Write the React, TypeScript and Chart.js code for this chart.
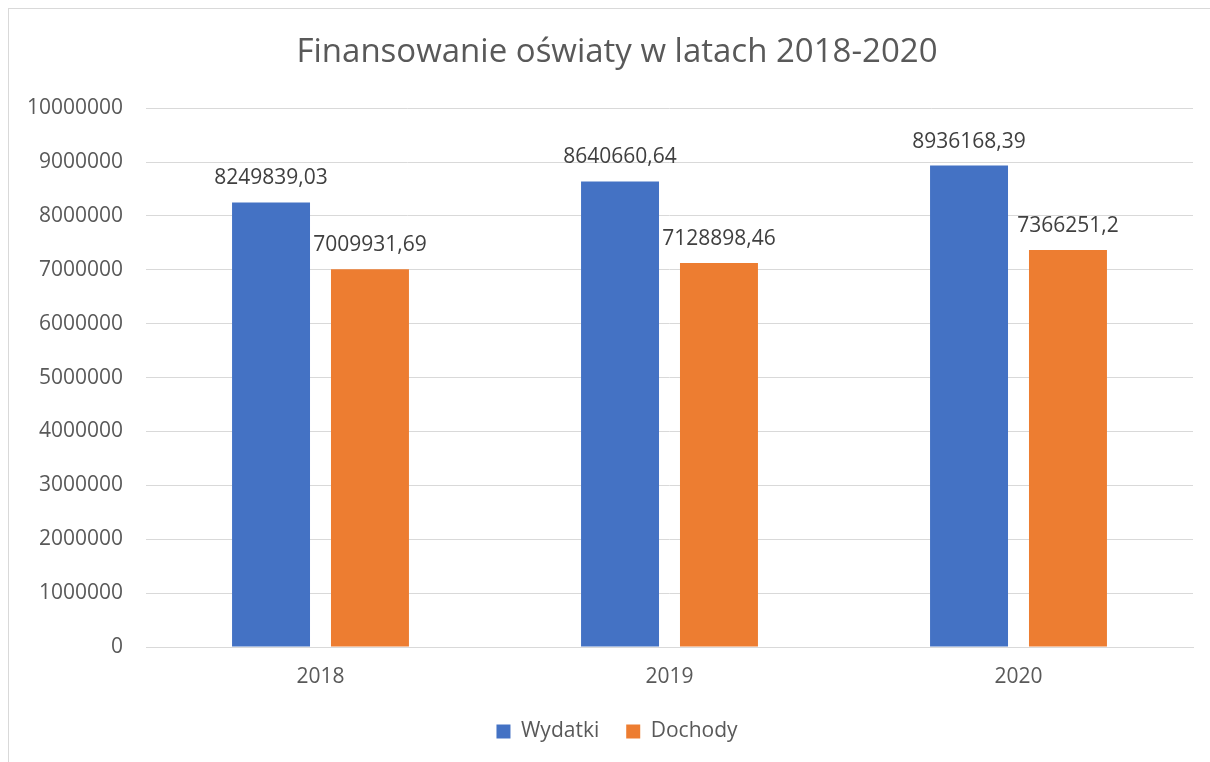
import React, { useEffect, useRef } from "react";
import { Chart, registerables } from "chart.js";

Chart.register(...registerables);

const categories = ["2018", "2019", "2020"];
const wydatki = [8249839.03, 8640660.64, 8936168.39];
const dochody = [7009931.69, 7128898.46, 7366251.2];
const seriesNames = ["Wydatki", "Dochody"];
const titleText = "Finansowanie oświaty w latach 2018-2020";
const yMin = 0;
const yMax = 10000000;
const yStep = 1000000;

const FONT = "'Open Sans', 'DejaVu Sans', sans-serif";

const dataLabelPlugin = {
  id: "dataLabels",
  afterDatasetsDraw(chart: any) {
    const ctx = chart.ctx;
    ctx.save();
    ctx.font = `21px ${FONT}`;
    ctx.fillStyle = "#404040";
    ctx.textAlign = "center";
    ctx.textBaseline = "middle";
    chart.data.datasets.forEach((ds: any, di: number) => {
      const meta = chart.getDatasetMeta(di);
      meta.data.forEach((bar: any, i: number) => {
        const v = ds.data[i] as number;
        const txt = String(v).replace(".", ",");
        ctx.fillText(txt, bar.x, bar.y - 24);
      });
    });
    ctx.restore();
  },
};

export default function App() {
  const ref = useRef<HTMLCanvasElement | null>(null);
  useEffect(() => {
    if (!ref.current) return;
    const chart = new Chart(ref.current, {
      type: "bar",
      data: {
        labels: categories,
        datasets: [
          {
            label: seriesNames[0],
            data: wydatki,
            backgroundColor: "#4472C4",
            categoryPercentage: 0.567,
            barPercentage: 0.788,
          },
          {
            label: seriesNames[1],
            data: dochody,
            backgroundColor: "#ED7D31",
            categoryPercentage: 0.567,
            barPercentage: 0.788,
          },
        ],
      },
      options: {
        animation: false,
        responsive: false,
        maintainAspectRatio: false,
        layout: { padding: { left: 0, right: 0, top: 0, bottom: 17 } },
        plugins: {
          title: {
            display: true,
            text: titleText,
            color: "#595959",
            font: { family: FONT, size: 33, weight: "normal" },
            padding: { top: 24, bottom: 35.6 },
          },
          legend: {
            display: true,
            position: "bottom",
            labels: {
              color: "#595959",
              font: { family: FONT, size: 21 },
              boxWidth: 14,
              boxHeight: 14,
              padding: 27,
            },
          },
          tooltip: { enabled: false },
        },
        scales: {
          x: {
            grid: { display: false, drawTicks: false },
            border: { display: true, color: "#D9D9D9", width: 1 },
            ticks: {
              color: "#595959",
              font: { family: FONT, size: 21 },
              padding: 17,
            },
            afterFit: (s: any) => {
              s.height = 47;
            },
          },
          y: {
            min: yMin,
            max: yMax,
            grid: { color: "#D9D9D9", lineWidth: 1, drawTicks: false },
            border: { display: false },
            ticks: {
              stepSize: yStep,
              color: "#595959",
              font: { family: FONT, size: 21 },
              padding: 23,
              callback: (v: any) => String(v),
            },
            afterFit: (s: any) => {
              s.width = 137;
            },
          },
          yRight: {
            type: "linear",
            position: "right",
            min: yMin,
            max: yMax,
            grid: { display: false, drawTicks: false },
            border: { display: false },
            ticks: { display: false },
            afterFit: (s: any) => {
              s.width = 32;
            },
          },
        },
      },
      plugins: [dataLabelPlugin],
    });
    return () => chart.destroy();
  }, []);

  return (
    <div
      style={{
        position: "absolute",
        left: 8,
        top: 8,
        width: 1202,
        height: 754,
        overflow: "hidden",
        borderLeft: "1px solid #D9D9D9",
        borderTop: "1px solid #D9D9D9",
        boxSizing: "border-box",
        background: "#fff",
      }}
    >
      <canvas ref={ref} width={1216} height={760} style={{ display: "block", width: 1216, height: 760 }} />
    </div>
  );
}
